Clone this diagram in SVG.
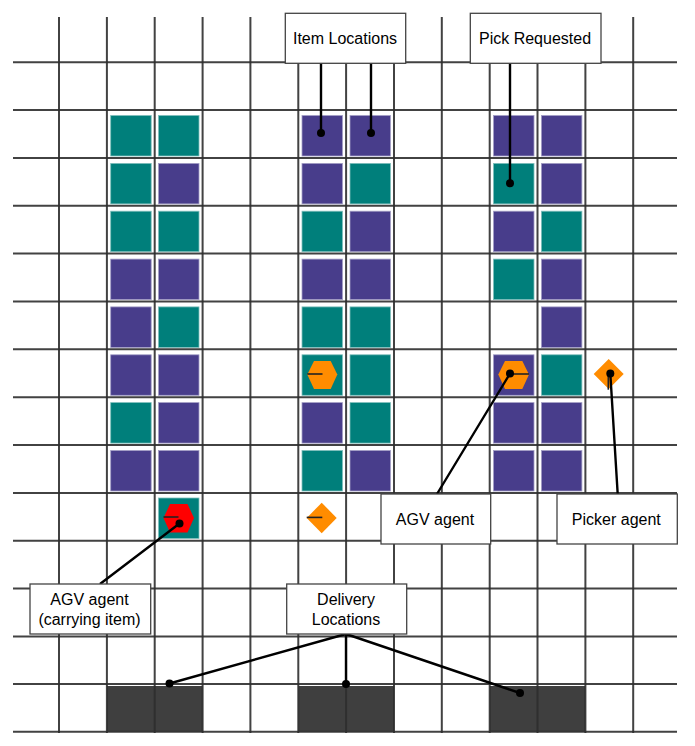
<svg xmlns="http://www.w3.org/2000/svg" width="695" height="746" viewBox="0 0 695 746">
<style>
text{font-family:"Liberation Sans",Arial,sans-serif;font-size:16px;fill:#000;text-anchor:middle}
.g{stroke:#2e2e2e;stroke-width:2;fill:none;opacity:.9}
.t{fill:#007f7b;stroke:#7fbfbc;stroke-width:.8}
.p{fill:#483d8b;stroke:#a39ec5;stroke-width:.8}
.d{fill:#3f3f3f}
.o{fill:#ff8c00}
.r{fill:#ff0000}
.h{stroke:#222;stroke-width:1.6;fill:none}
.b{fill:#fff;stroke:#444;stroke-width:1.3}
.l{stroke:#000;stroke-width:2.4;fill:none}
.dot{fill:#000}
</style>
<rect width="695" height="746" fill="#fff"/>
<g id="delivery-locations">
<rect class="d" x="107" y="686" width="95.7" height="45.7"/>
<rect class="d" x="298.3" y="686" width="95.7" height="45.7"/>
<rect class="d" x="489.7" y="686" width="95.7" height="45.7"/>
</g>
<g id="grid">
<path class="g" d="M59 17V733M106.9 17V733M154.7 17V733M202.6 17V733M250.4 17V733M298.3 17V733M346.1 17V733M394 17V733M441.8 17V733M489.7 17V733M537.5 17V733M585.4 17V733M633.2 17V733"/>
<path class="g" d="M13 62.2H677M13 110H677M13 157.9H677M13 205.8H677M13 253.6H677M13 301.5H677M13 349.3H677M13 397.2H677M13 445H677M13 492.9H677M13 540.7H677M13 588.6H677M13 636.4H677M13 684H677M13 731.8H677"/>
</g>
<g id="aisle-1">
<rect class="t" x="110.7" y="115.5" width="40.5" height="40.5"/><rect class="t" x="158.5" y="115.5" width="40.5" height="40.5"/>
<rect class="t" x="110.7" y="163.4" width="40.5" height="40.5"/><rect class="p" x="158.5" y="163.4" width="40.5" height="40.5"/>
<rect class="t" x="110.7" y="211.2" width="40.5" height="40.5"/><rect class="t" x="158.5" y="211.2" width="40.5" height="40.5"/>
<rect class="p" x="110.7" y="259.1" width="40.5" height="40.5"/><rect class="p" x="158.5" y="259.1" width="40.5" height="40.5"/>
<rect class="p" x="110.7" y="306.9" width="40.5" height="40.5"/><rect class="t" x="158.5" y="306.9" width="40.5" height="40.5"/>
<rect class="p" x="110.7" y="354.8" width="40.5" height="40.5"/><rect class="p" x="158.5" y="354.8" width="40.5" height="40.5"/>
<rect class="t" x="110.7" y="402.6" width="40.5" height="40.5"/><rect class="p" x="158.5" y="402.6" width="40.5" height="40.5"/>
<rect class="p" x="110.7" y="450.5" width="40.5" height="40.5"/><rect class="p" x="158.5" y="450.5" width="40.5" height="40.5"/>
<rect class="t" x="158.5" y="498" width="40.5" height="40.5"/>
</g>
<g id="aisle-2">
<rect class="p" x="302" y="115.5" width="40.5" height="40.5"/><rect class="p" x="350" y="115.5" width="40.5" height="40.5"/>
<rect class="p" x="302" y="163.4" width="40.5" height="40.5"/><rect class="t" x="350" y="163.4" width="40.5" height="40.5"/>
<rect class="t" x="302" y="211.2" width="40.5" height="40.5"/><rect class="p" x="350" y="211.2" width="40.5" height="40.5"/>
<rect class="p" x="302" y="259.1" width="40.5" height="40.5"/><rect class="p" x="350" y="259.1" width="40.5" height="40.5"/>
<rect class="t" x="302" y="306.9" width="40.5" height="40.5"/><rect class="t" x="350" y="306.9" width="40.5" height="40.5"/>
<rect class="t" x="302" y="354.8" width="40.5" height="40.5"/><rect class="t" x="350" y="354.8" width="40.5" height="40.5"/>
<rect class="p" x="302" y="402.6" width="40.5" height="40.5"/><rect class="t" x="350" y="402.6" width="40.5" height="40.5"/>
<rect class="t" x="302" y="450.5" width="40.5" height="40.5"/><rect class="p" x="350" y="450.5" width="40.5" height="40.5"/>
</g>
<g id="aisle-3">
<rect class="p" x="493.5" y="115.5" width="40.5" height="40.5"/><rect class="p" x="541.4" y="115.5" width="40.5" height="40.5"/>
<rect class="t" x="493.5" y="163.4" width="40.5" height="40.5"/><rect class="p" x="541.4" y="163.4" width="40.5" height="40.5"/>
<rect class="p" x="493.5" y="211.2" width="40.5" height="40.5"/><rect class="t" x="541.4" y="211.2" width="40.5" height="40.5"/>
<rect class="t" x="493.5" y="259.1" width="40.5" height="40.5"/><rect class="p" x="541.4" y="259.1" width="40.5" height="40.5"/>
<rect class="p" x="541.4" y="306.9" width="40.5" height="40.5"/>
<rect class="p" x="493.5" y="354.8" width="40.5" height="40.5"/><rect class="t" x="541.4" y="354.8" width="40.5" height="40.5"/>
<rect class="p" x="493.5" y="402.6" width="40.5" height="40.5"/><rect class="p" x="541.4" y="402.6" width="40.5" height="40.5"/>
<rect class="p" x="493.5" y="450.5" width="40.5" height="40.5"/><rect class="p" x="541.4" y="450.5" width="40.5" height="40.5"/>
</g>
<g id="agv-carrying">
<polygon class="r" points="163.5,518 170,504 187.5,504 194,518 187.5,532.5 170,532.5"/>
<path class="h" d="M163.5 517H178.5"/>
</g>
<g id="agv-aisle-2">
<polygon class="o" points="307.3,374.5 314,361 330.7,361 337.3,374.5 330.7,389 314,389"/>
<path class="h" d="M307.3 374H322.5"/>
</g>
<g id="agv-aisle-3">
<polygon class="o" points="498.3,374.5 505,361 522.3,361 529,374.5 522.3,389 505,389"/>
<path class="h" d="M513 374H529"/>
</g>
<g id="picker-lower">
<polygon class="o" points="306.7,518 321.7,502.7 336.7,518 321.7,533.3"/>
<path class="h" d="M306.7 517.4H322.3"/>
</g>
<g id="picker-right">
<polygon class="o" points="593.7,374 608.7,359 623.7,374 608.7,389"/>
<path class="h" d="M608.3 374V389.7"/>
</g>
<g id="connectors">
<path class="l" d="M321 63V133M371 63V133M510 63V183.3M437 494L510 373.5M617.7 494L610.3 373.5M100 584L179.5 523.5M346 634L169.5 683.5M346 634V684M346 634L520 693"/>
<circle class="dot" cx="321" cy="133" r="4"/><circle class="dot" cx="371" cy="133" r="4"/><circle class="dot" cx="510" cy="183.3" r="4"/>
<circle class="dot" cx="510" cy="373.5" r="4"/><circle class="dot" cx="610.3" cy="373.5" r="4"/><circle class="dot" cx="179.5" cy="523.5" r="4"/>
<circle class="dot" cx="169.5" cy="683.5" r="4"/><circle class="dot" cx="346" cy="684" r="4"/><circle class="dot" cx="520" cy="693" r="4"/>
</g>
<g id="label-item-locations"><rect class="b" x="285.3" y="13.3" width="120.4" height="50"/><text x="345" y="44">Item Locations</text></g>
<g id="label-pick-requested"><rect class="b" x="470.3" y="13.3" width="130.7" height="50"/><text x="535" y="44">Pick Requested</text></g>
<g id="label-agv-agent"><rect class="b" x="381" y="494" width="109.7" height="50"/><text x="435" y="525">AGV agent</text></g>
<g id="label-picker-agent"><rect class="b" x="557" y="494" width="120.3" height="50"/><text x="616.3" y="525">Picker agent</text></g>
<g id="label-agv-carrying"><rect class="b" x="30" y="584" width="120.7" height="50"/><text x="89.5" y="605">AGV agent</text><text x="89.5" y="625">(carrying item)</text></g>
<g id="label-delivery"><rect class="b" x="286.7" y="584" width="120" height="50"/><text x="346" y="605">Delivery</text><text x="346" y="625">Locations</text></g>
</svg>
